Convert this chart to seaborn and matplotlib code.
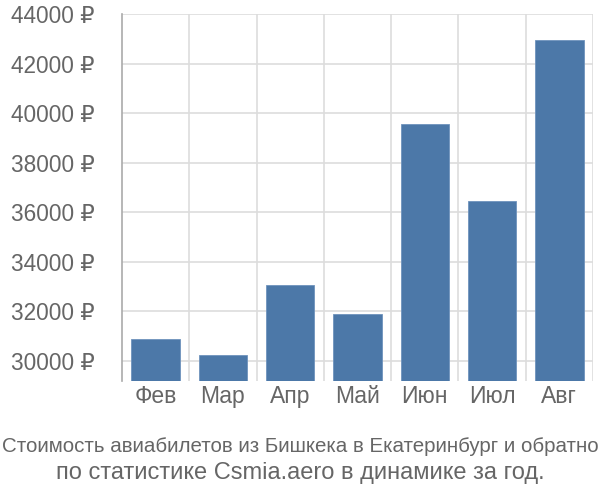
import matplotlib
matplotlib.use("Agg")
import matplotlib.pyplot as plt
import seaborn as sns
import pandas as pd
import numpy as np

months = ["Фев", "Мар", "Апр", "Май", "Июн", "Июл", "Авг"]
prices = [30880, 30230, 33070, 31900, 39570, 36460, 42950]
yticks = [30000, 32000, 34000, 36000, 38000, 40000, 42000, 44000]
caption1 = "Стоимость авиабилетов из Бишкека в Екатеринбург и обратно"
caption2 = "по статистике Csmia.aero в динамике за год."

sns.set_style("white")
plt.rcParams['font.family'] = ['Liberation Sans', 'DejaVu Sans']

df = pd.DataFrame({"month": months, "price": prices})

fig = plt.figure(figsize=(6, 5), dpi=100)
ax = fig.add_axes([122/600, 1-381/500, (593-122)/600, (381-14)/500])

sns.barplot(data=df, x="month", y="price", color="#4C78A8", saturation=1,
            width=0.72, ax=ax, zorder=3, edgecolor="#6f93bd", linewidth=0.6)

ax.set_ylim(29190, 44000)
ax.set_xlim(-0.5, len(months) - 0.5)
ax.set_yticks(yticks)
ax.set_yticklabels([f"{v} ₽" for v in yticks])
ax.set_xticks(np.arange(len(months)))
ax.set_xticklabels(months)

grid_c = "#dddddd"
for v in yticks:
    ax.axhline(v, color=grid_c, lw=1.2, zorder=1)
for b in np.arange(len(months)) + 0.5:
    ax.axvline(b, color=grid_c, lw=1.2, zorder=1)

for s in ["top", "right", "bottom"]:
    ax.spines[s].set_visible(False)
ax.spines["left"].set_color("#aaaaaa")
ax.spines["left"].set_linewidth(1.2)

ax.tick_params(axis="y", which="major", length=21, color=grid_c, width=1.2,
               labelsize=16.3, labelcolor="#666666", pad=-1.5)
ax.tick_params(axis="x", which="major", length=0, labelsize=16.5,
               labelcolor="#666666", pad=3)
ax.set_xlabel("")
ax.set_ylabel("")

fig.text(0.5, 1-446/500, caption1, ha="center", va="center", fontsize=14.8,
         color="#666666")
fig.text(0.5, 1-473/500, caption2, ha="center", va="center", fontsize=17,
         color="#666666")

fig.savefig("out.png", dpi=100)
